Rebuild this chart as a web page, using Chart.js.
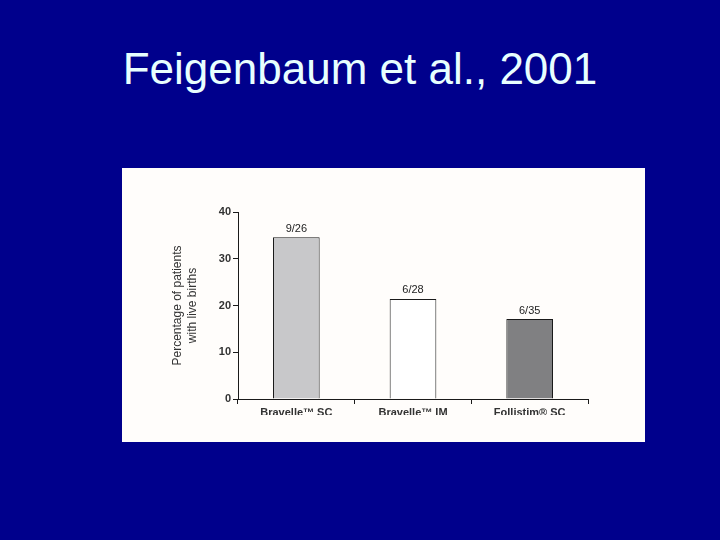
<!DOCTYPE html>
<html>
<head>
<meta charset="utf-8">
<script src="https://cdn.jsdelivr.net/npm/chart.js@4"></script>
<style>
  body { margin: 0; width: 720px; height: 540px; background: #00008c; position: relative; overflow: hidden; }
  #title { position: absolute; left: 0; width: 720px; top: 44px; text-align: center;
           font-family: "Liberation Sans", Arial, sans-serif; font-size: 44px; color: #e8ffff; }
  #panel { position: absolute; left: 122px; top: 168px; width: 523px; height: 274px; background: #fffdfb; }
  #wrap { position: absolute; left: 0; top: 0; width: 523px; height: 247px; }
</style>
</head>
<body>
<div id="title">Feigenbaum et al., 2001</div>
<div id="panel"><div id="wrap"><canvas id="myChart"></canvas></div></div>
<script>
const categories = ['Bravelle™ SC', 'Bravelle™ IM', 'Follistim® SC'];
const values = [34.6, 21.4, 17.1];
const fractions = ['9/26', '6/28', '6/35'];
const yTicks = [0, 10, 20, 30, 40];

const barLabels = {
    id: 'barLabels',
    afterDatasetsDraw(chart) {
        const ctx = chart.ctx;
        const meta = chart.getDatasetMeta(0);
        ctx.save();
        ctx.font = '11px "Liberation Sans", Arial, sans-serif';
        ctx.fillStyle = '#222';
        ctx.textAlign = 'center';
        ctx.textBaseline = 'bottom';
        meta.data.forEach((bar, i) => {
            ctx.fillText(fractions[i], bar.x, bar.y - 3);
        });
        ctx.restore();
    }
};

const config = {
    type: 'bar',
    data: {
        labels: categories,
        datasets: [{
            data: values,
            backgroundColor: ['#c8c8ca', '#ffffff', '#808082'],
            borderColor: '#1a1a1a',
            borderWidth: 1,
            borderSkipped: 'bottom',
            barPercentage: 0.4,
            categoryPercentage: 1
        }]
    },
    options: {
        responsive: true,
        maintainAspectRatio: false,
        animation: false,
        layout: {
            padding: { left: 48, top: 44, right: 57, bottom: 0 }
        },
        plugins: {
            legend: { display: false },
            tooltip: { enabled: false }
        },
        scales: {
            x: {
                grid: { display: true, drawOnChartArea: false, offset: true, tickLength: 5, color: '#1a1a1a' },
                border: { display: true, color: '#1a1a1a' },
                ticks: {
                    color: '#333',
                    padding: 2,
                    maxRotation: 0,
                    font: { family: '"Liberation Sans", Arial, sans-serif', size: 11, weight: 'bold' }
                },
                afterFit(scale) { scale.height = 16; }
            },
            y: {
                min: 0,
                max: 40,
                afterBuildTicks(scale) { scale.ticks = yTicks.map(v => ({ value: v })); },
                grid: { display: true, drawOnChartArea: false, tickLength: 5, color: '#1a1a1a' },
                border: { display: true, color: '#1a1a1a' },
                ticks: {
                    color: '#333',
                    padding: 2,
                    font: { family: '"Liberation Sans", Arial, sans-serif', size: 11, weight: 'bold' }
                },
                title: {
                    display: true,
                    text: ['Percentage of patients', 'with live births'],
                    color: '#333',
                    padding: { top: 0, bottom: 4 },
                    font: { family: '"Liberation Sans", Arial, sans-serif', size: 12, lineHeight: 1.25 }
                },
                afterFit(scale) { scale.width = 68; }
            }
        }
    },
    plugins: [barLabels]
};

const myChart = new Chart(document.getElementById('myChart'), config);
</script>
</body>
</html>
